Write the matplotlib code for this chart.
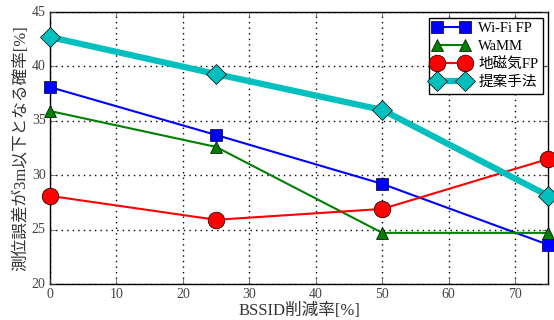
import matplotlib
matplotlib.use('Agg')
import matplotlib.pyplot as plt

plt.style.use('classic')
plt.rcParams['font.family'] = ['Liberation Serif', 'Noto Sans CJK JP']

# BSSID削減率 [%]
rates = [0, 25, 50, 75]

wifi_fp = [38.1, 33.7, 29.2, 23.6]
wamm = [35.9, 32.6, 24.7, 24.7]
geomag_fp = [28.1, 25.9, 26.9, 31.5]
proposed = [42.7, 39.3, 36.0, 28.1]

fig, ax = plt.subplots(figsize=(5.54, 3.2), dpi=100)
fig.patch.set_facecolor('white')

ax.plot(rates, wifi_fp, 'b-s', lw=1.5, ms=9, label='Wi-Fi FP', clip_on=False, zorder=3)
ax.plot(rates, wamm, 'g-^', lw=1.5, ms=9, label='WaMM', clip_on=False, zorder=3)
ax.plot(rates, geomag_fp, 'r-o', lw=1.5, ms=12, label='地磁気FP', clip_on=False, zorder=3)
ax.plot(rates, proposed, '-D', color='c', lw=4.5, ms=10, label='提案手法', clip_on=False, zorder=3)

ax.set_xlim(0, 75)
ax.set_ylim(20, 45)
ax.set_xticks(range(0, 80, 10))
ax.set_yticks(range(20, 50, 5))
ax.grid(True, color='k', linestyle=':', lw=1)
ax.tick_params(labelsize=10, colors='#444444', pad=3)
ax.set_xlabel('BSSID削減率[%]', fontsize=12, color='#333333', labelpad=1)
ax.set_ylabel('測位誤差が3m以下となる確率[%]', fontsize=12, color='#333333', labelpad=2)

leg = ax.legend(loc='upper right', fontsize=10.5, numpoints=2, handlelength=2.5,
                borderaxespad=0.4, labelspacing=0.3, handletextpad=0.6, markerscale=1.0,
                borderpad=0.3)
leg.get_frame().set_linewidth(1)

fig.subplots_adjust(left=0.09, right=0.99, top=0.9625, bottom=0.1125)
fig.savefig('out.png', dpi=100)
